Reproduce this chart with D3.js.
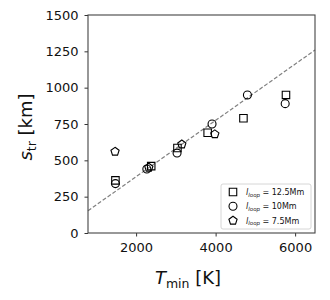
<!DOCTYPE html>
<html>
<head>
<meta charset="utf-8">
<script src="https://cdn.jsdelivr.net/npm/d3@7"></script>
<style>
body { margin: 0; background: #fff; }
text { font-family: "DejaVu Sans", sans-serif; }
</style>
</head>
<body>
<div id="chart-area"></div>
<script>

// data
var sqT = [1480, 2380, 3040, 3800, 4700, 5770];
var sqS = [362, 460, 585, 690, 790, 950];
var ciT = [1480, 2270, 3030, 3910, 4800, 5750];
var ciS = [340, 440, 550, 750, 950, 890];
var peT = [1470, 2320, 3150, 3980];
var peS = [560, 450, 610, 680];
var fitT = [790, 6500];
var fitS = [153, 1259];
var xTicks = [2000, 4000, 6000];
var yTicks = [0, 250, 500, 750, 1000, 1250, 1500];
var legendNames = ["12.5Mm", "10Mm", "7.5Mm"];

var margin = { left: 88, right: 15, top: 15, bottom: 67 },
    width = 330 - margin.left - margin.right,
    height = 300 - margin.top - margin.bottom;

var svg = d3.select("#chart-area")
    .append("svg")
    .attr("width", 330)
    .attr("height", 300);
var g = svg.append("g")
    .attr("transform", "translate(" + margin.left + "," + margin.top + ")");

var x = d3.scaleLinear().domain([790, 6500]).range([0, width]);
var y = d3.scaleLinear().domain([0, 1500]).range([height, 0]);

// dashed trend line
g.append("line")
    .attr("x1", x(fitT[0])).attr("y1", y(fitS[0]))
    .attr("x2", x(fitT[1])).attr("y2", y(fitS[1]))
    .attr("stroke", "#808080")
    .attr("stroke-width", 1.2)
    .attr("stroke-dasharray", "4,2");

function pentagon(r) {
    var pts = [];
    for (var i = 0; i < 5; i++) {
        var a = -Math.PI / 2 + i * 2 * Math.PI / 5;
        pts.push([r * Math.cos(a), r * Math.sin(a)]);
    }
    return "M" + pts.join("L") + "Z";
}
var shapes = [
    d3.symbol().type(d3.symbolSquare).size(56)(),
    d3.symbol().type(d3.symbolCircle).size(50)(),
    pentagon(4.3)
];

var series = [
    sqT.map(function(t, i){ return { t: t, s: sqS[i] }; }),
    ciT.map(function(t, i){ return { t: t, s: ciS[i] }; }),
    peT.map(function(t, i){ return { t: t, s: peS[i] }; })
];

series.forEach(function(pts, k){
    g.selectAll(".m" + k)
        .data(pts)
        .enter()
        .append("path")
        .attr("class", "m" + k)
        .attr("d", shapes[k])
        .attr("transform", function(d){ return "translate(" + x(d.t) + "," + y(d.s) + ")"; })
        .attr("fill", "none")
        .attr("stroke", "#000")
        .attr("stroke-width", 1.1);
});

// axes
var xAxis = g.append("g")
    .attr("transform", "translate(0," + height + ")")
    .call(d3.axisBottom(x).tickValues(xTicks).tickSize(3.5).tickPadding(6).tickFormat(d3.format("d")));
var yAxis = g.append("g")
    .call(d3.axisLeft(y).tickValues(yTicks).tickSize(3.5).tickPadding(6).tickFormat(d3.format("d")));
[xAxis, yAxis].forEach(function(a){
    a.select(".domain").remove();
    a.selectAll("line").attr("stroke", "#333");
    a.selectAll("text").attr("font-size", "13px").attr("fill", "#111")
        .attr("font-family", "DejaVu Sans");
});

g.append("rect")
    .attr("width", width).attr("height", height)
    .attr("fill", "none").attr("stroke", "#444").attr("stroke-width", 1.1);

// legend
var lg = g.append("g").attr("transform", "translate(" + (221 - margin.left) + "," + (184 - margin.top) + ")");
lg.append("rect")
    .attr("width", 90).attr("height", 45).attr("rx", 2)
    .attr("fill", "#fff").attr("stroke", "#ccc").attr("stroke-width", 0.8);
legendNames.forEach(function(n, i){
    var yy = 8 + i * 14.3;
    lg.append("path")
        .attr("d", shapes[i])
        .attr("transform", "translate(12," + yy + ")")
        .attr("fill", "none").attr("stroke", "#000").attr("stroke-width", 1.1);
    var t = lg.append("text").attr("x", 25).attr("y", yy + 3).attr("font-size", "8px").attr("fill", "#111");
    t.append("tspan").attr("font-style", "italic").text("l");
    t.append("tspan").attr("font-size", "5.5px").attr("font-style", "italic").attr("dy", 1.5).text("loop");
    t.append("tspan").attr("dy", -1.5).text(" = " + n);
});

// axis labels
var yl = svg.append("text")
    .attr("transform", "translate(32,127) rotate(-90)")
    .attr("text-anchor", "middle")
    .attr("font-size", "18px")
    .attr("fill", "#111");
yl.append("tspan").attr("font-style", "italic").text("s");
yl.append("tspan").attr("font-size", "12.5px").attr("dy", 4).text("tr");
yl.append("tspan").attr("dy", -4).text(" [km]");

var xl = svg.append("text")
    .attr("x", 188).attr("y", 284)
    .attr("text-anchor", "middle")
    .attr("font-size", "18px")
    .attr("fill", "#111");
xl.append("tspan").attr("font-style", "italic").text("T");
xl.append("tspan").attr("font-size", "12.5px").attr("dy", 4).text("min");
xl.append("tspan").attr("dy", -4).text(" [K]");

</script>
</body>
</html>
